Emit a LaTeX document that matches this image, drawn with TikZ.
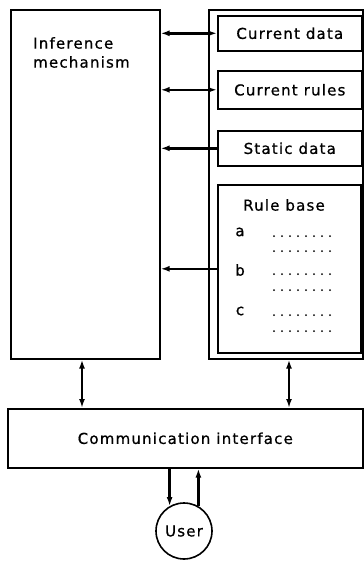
\documentclass[tikz,border=0pt]{standalone}
\usepackage{fontspec}
\setmainfont{DejaVu Sans}[LetterSpace=8,FakeBold=0.8]
\usetikzlibrary{arrows.meta}

\tikzset{
  box/.style={draw, line width=1.6pt, inner sep=0pt, anchor=north west},
  link/.style={line width=2.4pt, {Latex[length=9pt,width=6pt]}-{Latex[length=9pt,width=6pt]}},
  feed/.style={line width=2.4pt, -{Latex[length=9pt,width=6pt]}},
  every node/.style={font=\fontsize{15}{19}\selectfont}
}

\begin{document}
\begin{tikzpicture}[x=1pt,y=-1pt]
\useasboundingbox (0,0) rectangle (364,563);

% left block
\node[box, minimum width=149, minimum height=349](infer) at (10,9) {};
\node[anchor=north west, align=left, inner sep=0pt](inferText) at (33,37) {Inference\\mechanism};

% right block with its stores
\node[box, minimum width=154, minimum height=349](store) at (208,9) {};
\node[box, minimum width=144, minimum height=35](curData) at (217,15) {Current data};
\node[box, minimum width=144, minimum height=38](curRules) at (217,70) {Current rules};
\node[box, minimum width=144, minimum height=35](statData) at (217,130) {Static data};
\node[box, minimum width=143, minimum height=168](ruleBase) at (217,184) {};
\node(ruleTitle) at (284,205) {Rule base};
\node(rowA) at (240,232) {a};
\node(rowB) at (240,270) {b};
\node(rowC) at (240,311) {c};
\foreach \y in {236,251,274,290,315,331}
  \foreach \x in {0,...,7}
    \fill (274+8*\x,\y) circle (1pt);

% interface and user
\node[box, minimum width=355, minimum height=59](comm) at (7,408) {Communication interface};
\node[draw, circle, line width=1.6pt, minimum size=56, inner sep=0pt](user) at (184,531) {User};

% links between blocks
\draw[link] (infer.east |- curData.west) -- (curData.west);
\draw[link] (infer.east |- curRules.west) -- (curRules.west);
\draw[feed] (statData.west) -- (infer.east |- statData.west);
\draw[feed] (ruleBase.west) -- (infer.east |- ruleBase.west);

\coordinate (leftTap) at (82,0);
\coordinate (rightTap) at (289,0);
\draw[link] (leftTap |- infer.south) -- (leftTap |- comm.north);
\draw[link] (rightTap |- store.south) -- (rightTap |- comm.north);

\draw[feed] (comm.south -| user.120) -- (user.120);
\draw[feed] (user.60) -- (comm.south -| user.60);
\end{tikzpicture}
\end{document}
